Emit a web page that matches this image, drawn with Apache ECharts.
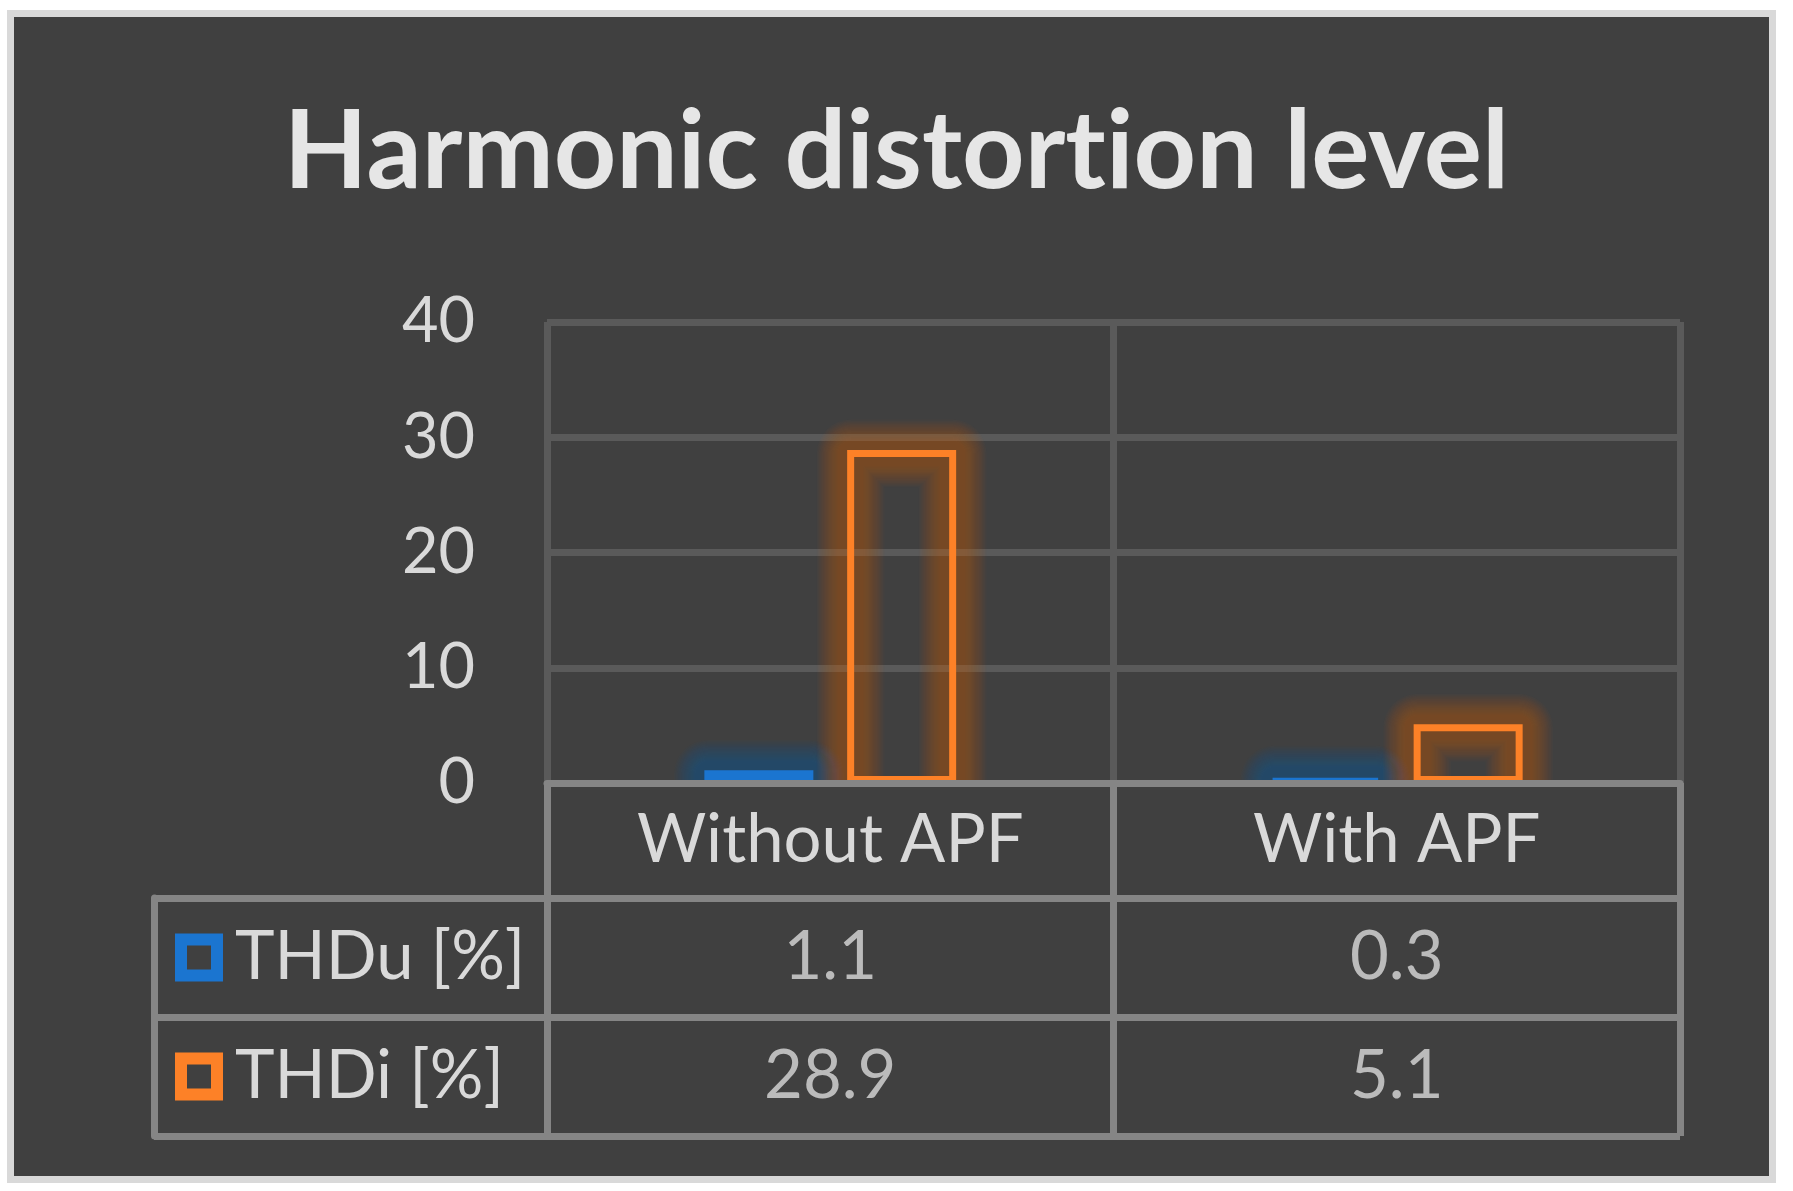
<!DOCTYPE html>
<html><head><meta charset="utf-8">
<script src="https://cdn.jsdelivr.net/npm/echarts@6/dist/echarts.min.js"></script>
<style>
html,body{margin:0;padding:0;background:#fff;width:1793px;height:1191px;overflow:hidden}
#frame{position:absolute;left:7px;top:10px;width:1769px;height:1173px;box-sizing:border-box;border:7px solid #d9d9d9;background:#404040}
#chart{position:absolute;left:0;top:0;width:1793px;height:1191px}
</style></head><body>
<div id="frame"></div><div id="chart"></div>
<script>
const chartTitle = 'Harmonic distortion level';
const categories = ['Without APF', 'With APF'];
const seriesNames = ['THDu [%]', 'THDi [%]'];
const thdu = [1.1, 0.3];
const thdi = [28.9, 5.1];
const yMin = 0, yMax = 40, yStep = 10;

const FONT = 'Lato';
const TXT = '#d9d9d9';
const GRIDC = '#5a5a5a';
const TABC = '#858585';
const BLUE = '#1b75d0';
const ORANGE = '#fd8127';
const seriesColors = [BLUE, ORANGE];
const glowColors = ['#0f52a6', '#c35611'];
const seriesValues = [thdu, thdi];

const BAR_W = 109, BAR_GAP = 0.31, BORDER = 7;

const tableData = [];
seriesValues.forEach((vals, r) => vals.forEach((v, c) => tableData.push([c, r, v])));
const glowData = [];
seriesValues.forEach((vals, s) => vals.forEach((v, c) => glowData.push([c, v, s])));

const rich = { t: { fontSize: 67, fontFamily: FONT, color: TXT, padding: [0, 0, 0, 18] } };
seriesColors.forEach((c, i) => {
  rich['b' + i] = { width: 36, height: 36, borderColor: c, borderWidth: 6, backgroundColor: 'rgba(0,0,0,0)' };
});

// split the title into two tokens only to avoid the font's "ti" ligature
const tIdx = chartTitle.indexOf('ti');
const titleRich = '{h|' + chartTitle.slice(0, tIdx + 1) + '}{h|' + chartTitle.slice(tIdx + 1) + '}';

const GLOW_STEPS = 20;
const glowAlpha = 1 - Math.pow(0.52, 1 / GLOW_STEPS);

function renderGlow(params, api) {
  const c = api.value(0), v = api.value(1), s = api.value(2);
  const base = api.coord([c, 0]);
  const top = api.coord([c, v]);
  const gap = BAR_W * BAR_GAP;
  const groupW = 2 * BAR_W + gap;
  const cx = base[0] - groupW / 2 + s * (BAR_W + gap) + BAR_W / 2;
  const half = (BAR_W - BORDER) / 2;
  const y1 = Math.min(top[1] + BORDER / 2, base[1] - BORDER / 2);
  const children = [];
  for (let k = 0; k < GLOW_STEPS; k++) {
    children.push({
      type: 'rect',
      shape: { x: cx - half, y: y1, width: 2 * half, height: base[1] + 80 - y1 },
      style: { fill: 'none', stroke: glowColors[s], lineWidth: 26 + k * 2.2, lineJoin: 'round', opacity: glowAlpha },
      silent: true
    });
  }
  return { type: 'group', children: children };
}

const chart = echarts.init(document.getElementById('chart'), null, { renderer: 'canvas' });
chart.setOption({
  backgroundColor: 'transparent',
  animation: false,
  title: {
    text: titleRich, left: 'center', top: 98, padding: [0, 12, 0, 0],
    textStyle: {
      fontFamily: FONT, fontWeight: 'bold', fontSize: 109, color: '#e6e6e6',
      rich: { h: { fontFamily: FONT, fontWeight: 'bold', fontSize: 109, color: '#e6e6e6' } }
    }
  },
  grid: [
    { left: 547, width: 1133, top: 322, height: 461, containLabel: false },
    { left: 547, width: 1133, top: 898, height: 238, containLabel: false }
  ],
  xAxis: [
    {
      type: 'category', gridIndex: 0, data: categories, position: 'bottom',
      axisLine: { show: true, lineStyle: { color: TABC, width: 7 } },
      axisTick: { show: true, length: 115, alignWithLabel: false, lineStyle: { color: TABC, width: 7 } },
      axisLabel: { fontSize: 67, fontFamily: FONT, color: TXT, margin: 57, verticalAlign: 'middle' },
      splitLine: { show: true, lineStyle: { color: GRIDC, width: 7 } },
      z: 5
    },
    {
      type: 'category', gridIndex: 1, data: categories,
      axisLine: { show: false }, axisTick: { show: false }, axisLabel: { show: false },
      splitLine: { show: true, lineStyle: { color: TABC, width: 7 } }
    }
  ],
  yAxis: [
    {
      type: 'value', gridIndex: 0, min: yMin, max: yMax, interval: yStep,
      axisLine: { show: false }, axisTick: { show: false },
      axisLabel: { fontSize: 63, fontFamily: FONT, color: TXT, margin: 72 },
      splitLine: { show: true, lineStyle: { color: GRIDC, width: 7 } }
    },
    {
      type: 'category', gridIndex: 1, data: seriesNames, inverse: true, position: 'left',
      axisLine: { show: false },
      axisTick: { show: true, length: 393, lineStyle: { color: TABC, width: 7 } },
      axisLabel: {
        align: 'left', margin: 366,
        formatter: (v, i) => '{b' + i + '|}{t|' + v + '}',
        rich: rich
      },
      splitLine: { show: true, lineStyle: { color: TABC, width: 7 } }
    },
    {
      type: 'category', gridIndex: 1, data: seriesNames, inverse: true, position: 'left', offset: 393,
      axisLine: { show: true, lineStyle: { color: TABC, width: 7 } },
      axisTick: { show: false }, axisLabel: { show: false }, splitLine: { show: false }
    }
  ],
  series: [
    {
      type: 'custom', xAxisIndex: 0, yAxisIndex: 0, data: glowData,
      renderItem: renderGlow, clip: true, z: 1, silent: true,
      encode: { x: 0, y: 1 }
    },
    ...seriesNames.map((name, i) => ({
      name: name, type: 'bar', xAxisIndex: 0, yAxisIndex: 0, z: 3,
      data: seriesValues[i], barWidth: BAR_W, barGap: (BAR_GAP * 100) + '%',
      itemStyle: { color: 'rgba(0,0,0,0)', borderColor: seriesColors[i], borderWidth: BORDER }
    })),
    {
      type: 'scatter', xAxisIndex: 1, yAxisIndex: 2, data: tableData,
      symbolSize: 1, itemStyle: { color: 'rgba(0,0,0,0)' },
      label: {
        show: true, position: 'inside', formatter: p => String(p.value[2]),
        fontSize: 67, fontFamily: FONT, color: TXT
      }
    }
  ]
});
</script>
</body></html>
